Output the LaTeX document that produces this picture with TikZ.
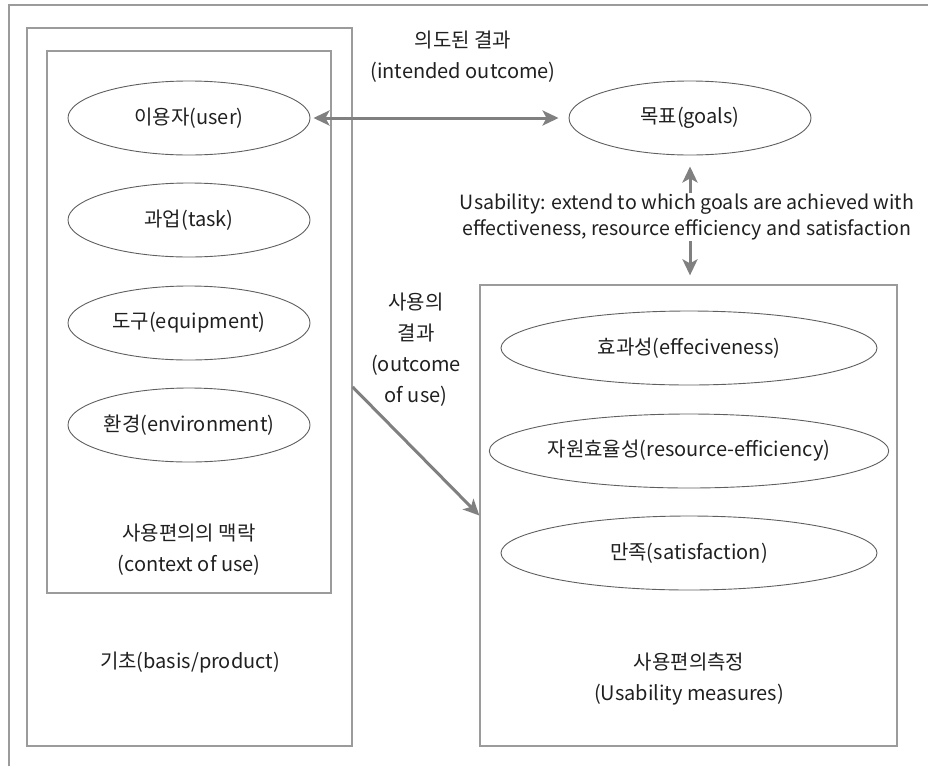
\documentclass[tikz,border=0pt]{standalone}
\usepackage{fontspec}
\setmainfont{Noto Sans CJK KR}
\usetikzlibrary{arrows.meta,shapes.geometric}
\definecolor{framegray}{RGB}{155,155,155}
\definecolor{ellgray}{RGB}{95,95,95}
\definecolor{arrowgray}{RGB}{128,128,128}
\definecolor{ink}{RGB}{32,32,32}
\tikzset{
  panel/.style={draw=framegray, line width=1.3pt, rectangle, inner sep=0pt},
  item/.style={draw=ellgray, line width=0.9pt, ellipse, inner sep=0pt,
               minimum height=74pt, text=ink, font=\fontsize{20}{31}\selectfont},
  label/.style={text=ink, align=center, inner sep=0pt, font=\fontsize{20}{31}\selectfont},
  flow/.style={draw=arrowgray, line width=3pt,
               arrows={Stealth[length=16pt,width=15pt,inset=4pt]-Stealth[length=16pt,width=15pt,inset=4pt]}},
  oneway/.style={draw=arrowgray, line width=3pt,
               arrows={-Stealth[length=16pt,width=15pt,inset=4pt]}}
}
\begin{document}
\begin{tikzpicture}[x=1pt,y=-1pt]
  \useasboundingbox (0,0) rectangle (928,766);
  % page frame (top and left edges only)
  \draw[framegray, line width=1.5pt] (9,766) -- (9,5) -- (928,5);

  % left side: basis box with the context-of-use box inside
  \node[panel, minimum width=325pt, minimum height=718pt] (basis) at (189.5,387) {};
  \node[panel, minimum width=284pt, minimum height=542pt] (context) at (189,322) {};
  \node[item, minimum width=242pt] (user) at (189,118) {이용자(user)};
  \node[item, minimum width=242pt] (task) at (189,220) {과업(task)};
  \node[item, minimum width=242pt] (equip) at (189,323) {도구(equipment)};
  \node[item, minimum width=242pt] (env) at (189,425) {환경(environment)};
  \node[label] (ctxlabel) at (189,550) {사용편의의 맥락\\(context of use)};
  \node[label] (basislabel) at (190,663) {기초(basis/product)};

  % goals
  \node[item, minimum width=242pt] (goals) at (690,118) {목표(goals)};
  \node[label] (intended) at (463,57) {의도된 결과\\(intended outcome)};

  % right side: usability measures
  \node[panel, minimum width=417pt, minimum height=461pt] (measures) at (688.5,515.5) {};
  \node[item, minimum width=376pt] (effect) at (689,348) {효과성(effeciveness)};
  \node[item, minimum width=376pt] (resource) at (689,451) {자원효율성(resource-efficiency)};
  \node[item, minimum width=376pt] (satis) at (689,553) {만족(satisfaction)};
  \node[label] (measlabel) at (689,679) {사용편의측정\\(Usability measures)};

  % connectors
  \draw[flow, shorten <=3pt, shorten >=10pt] (user) -- (goals);
  \draw[flow, shorten <=11pt, shorten >=9pt] (goals.south) -- (goals.south |- measures.north);
  \node[label, fill=white, inner ysep=1pt, font=\fontsize{19.6}{26}\selectfont] (defn) at (687,217)
    {Usability: extend to which goals are achieved with\\effectiveness, resource efficiency and satisfaction};
  \draw[oneway] (basis.east) -- (measures.west);
  \node[label] (outcome) at (416,350) {사용의\\결과\\(outcome\\of use)};
\end{tikzpicture}
\end{document}
